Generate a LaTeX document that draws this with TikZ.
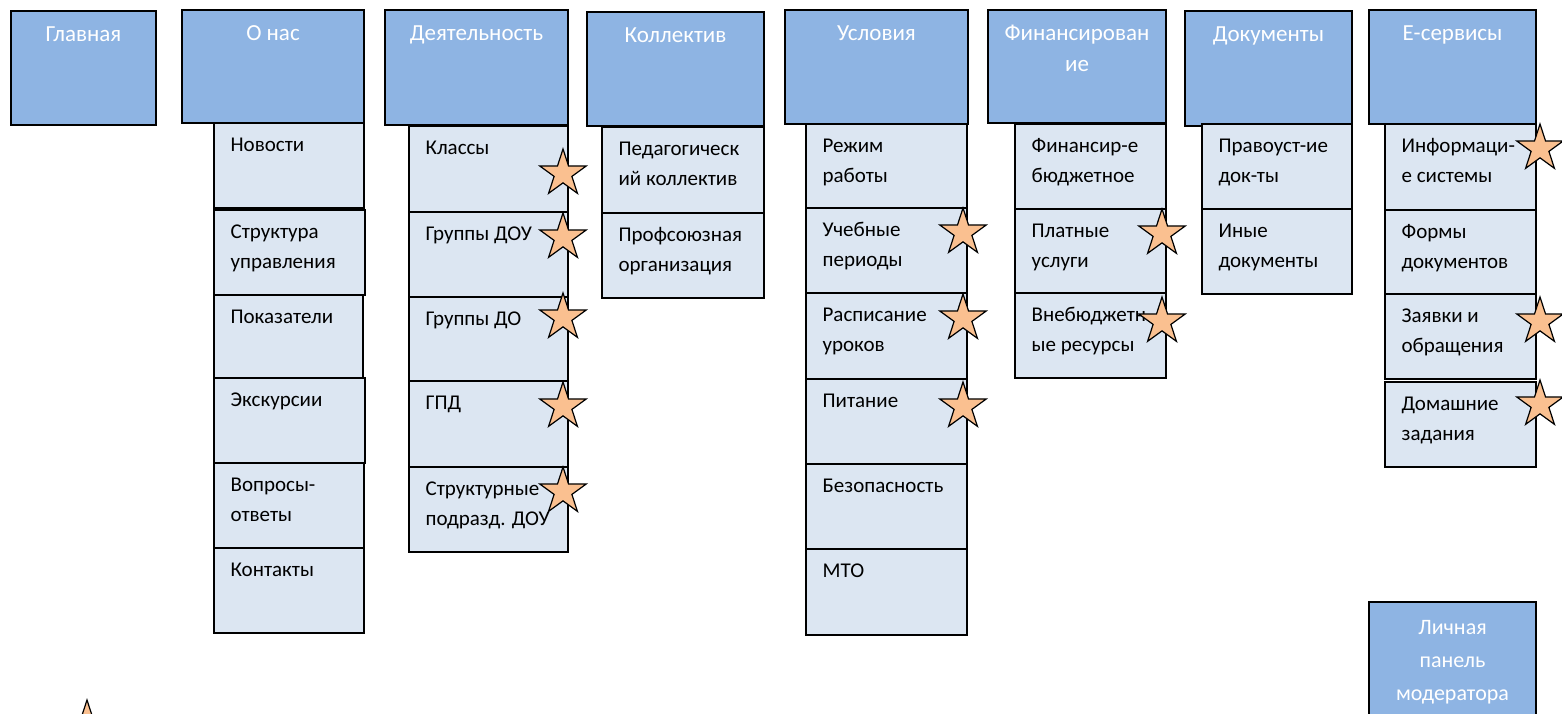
\documentclass[tikz,border=0pt]{standalone}
\usepackage{fontspec}
\setmainfont{Carlito}
\usetikzlibrary{fit,shapes.geometric}
\definecolor{hdrblue}{HTML}{8EB4E3}
\definecolor{subblue}{HTML}{DCE6F2}
\definecolor{starorange}{HTML}{FAC090}
\tikzset{
  hdrbox/.style={draw=black, line width=1.2pt, fill=hdrblue, inner sep=0pt},
  subbox/.style={draw=black, line width=1.2pt, fill=subblue, inner sep=0pt},
  hdrtext/.style={text=white, font=\fontsize{23}{31}\selectfont, align=center, anchor=base, inner sep=0pt},
  subtext/.style={text=black, font=\fontsize{21}{30}\selectfont, align=left, anchor=base west, inner sep=0pt},
  favstar/.style={star, star points=5, star point ratio=2.618, minimum size=49pt, inner sep=0pt, draw=black, line width=1.2pt, fill=starorange}
}
% #7 = number of text lines (the base anchor of a multi-line node is its last line)
\newcommand\mkhdr[7]{%
  \node[hdrbox, fit={(#2,#3) (#4,#5)}] (#1) {};
  \node[hdrtext] (#1-t) at ([yshift={-31pt-(#7-1)*31pt}]#1.north) {#6};}
\newcommand\mksub[7]{%
  \node[subbox, fit={(#2,#3) (#4,#5)}] (#1) {};
  \node[subtext] (#1-t) at ([xshift=17pt,yshift={-29pt-(#7-1)*30pt}]#1.north west) {#6};}
\begin{document}
\begin{tikzpicture}[x=1pt,y=-1pt]
\clip (0,0) rectangle (1562,713);
\fill[white] (0,0) rectangle (1562,713);
% headers
\mkhdr{h1}{11}{11}{156}{125}{Главная}{1}
\mkhdr{h2}{182}{10}{364}{123}{О нас}{1}
\mkhdr{h3}{385}{10}{568}{125}{Деятельность}{1}
\mkhdr{h4}{587}{12}{764}{126}{Коллектив}{1}
\mkhdr{h5}{785}{10}{968}{124}{Условия}{1}
\mkhdr{h6}{988}{10}{1166}{123}{Финансирован\\ие}{2}
\mkhdr{h7}{1185}{11}{1352}{126}{Документы}{1}
\mkhdr{h8}{1369}{10}{1536}{124}{Е-сервисы}{1}
% О нас
\mksub{a1}{214}{123}{364}{208}{Новости}{1}
\mksub{a2}{214}{210}{365}{295}{Структура\\управления}{2}
\mksub{a3}{214}{295}{363}{378}{Показатели}{1}
\mksub{a4}{214}{378}{365}{463}{Экскурсии}{1}
\mksub{a5}{214}{463}{364}{548}{Вопросы-\\ответы}{2}
\mksub{a6}{214}{548}{364}{633}{Контакты}{1}
% Деятельность
\mksub{b1}{409}{126}{568}{212}{Классы}{1}
\mksub{b2}{409}{212}{568}{297}{Группы ДОУ}{1}
\mksub{b3}{409}{297}{568}{381}{Группы ДО}{1}
\mksub{b4}{409}{381}{568}{467}{ГПД}{1}
\mksub{b5}{409}{467}{568}{552}{Структурные\\подразд. ДОУ}{2}
% Коллектив
\mksub{c1}{602}{127}{764}{213}{Педагогическ\\ий коллектив}{2}
\mksub{c2}{602}{213}{764}{298}{Профсоюзная\\организация}{2}
% Условия
\mksub{d1}{806}{124}{967}{208}{Режим\\работы}{2}
\mksub{d2}{806}{208}{967}{293}{Учебные\\периоды}{2}
\mksub{d3}{806}{293}{967}{379}{Расписание\\уроков}{2}
\mksub{d4}{806}{379}{967}{464}{Питание}{1}
\mksub{d5}{806}{464}{967}{549}{Безопасность}{1}
\mksub{d6}{806}{549}{967}{635}{МТО}{1}
% Финансирование
\mksub{e1}{1015}{124}{1166}{209}{Финансир-е\\бюджетное}{2}
\mksub{e2}{1015}{209}{1166}{293}{Платные\\услуги}{2}
\mksub{e3}{1015}{293}{1166}{378}{Внебюджетн\\ые ресурсы}{2}
% Документы
\mksub{f1}{1202}{124}{1352}{209}{Правоуст-ие\\док-ты}{2}
\mksub{f2}{1202}{209}{1352}{294}{Иные\\документы}{2}
% Е-сервисы
\mksub{g1}{1385}{124}{1536}{210}{Информаци-\\е системы}{2}
\mksub{g2}{1385}{210}{1536}{294}{Формы\\документов}{2}
\mksub{g3}{1385}{294}{1536}{379}{Заявки и\\обращения}{2}
\mksub{g4}{1385}{382}{1536}{467}{Домашние\\задания}{2}
% Личная панель
\node[hdrbox, fit={(1369,602) (1536,740)}] (lp) {};
\node[hdrtext, font=\fontsize{22}{33}\selectfont] (lp-t) at ([yshift=-99pt]lp.north) {Личная\\панель\\модератора};
% stars
\node[favstar] (s1) at (563,173.5) {};
\node[favstar] (s2) at (563,237.5) {};
\node[favstar] (s3) at (563,317.5) {};
\node[favstar] (s4) at (563,406.5) {};
\node[favstar] (s5) at (563,491.5) {};
\node[favstar] (s6) at (963,232.5) {};
\node[favstar] (s7) at (963,318.5) {};
\node[favstar] (s8) at (963,406.5) {};
\node[favstar] (s9) at (1162,233.5) {};
\node[favstar] (s10) at (1162,321.5) {};
\node[favstar] (s11) at (1540,148.5) {};
\node[favstar] (s12) at (1540,321.5) {};
\node[favstar] (s13) at (1540,404.5) {};
\node[favstar] (s14) at (87,724.5) {};
\end{tikzpicture}
\end{document}
